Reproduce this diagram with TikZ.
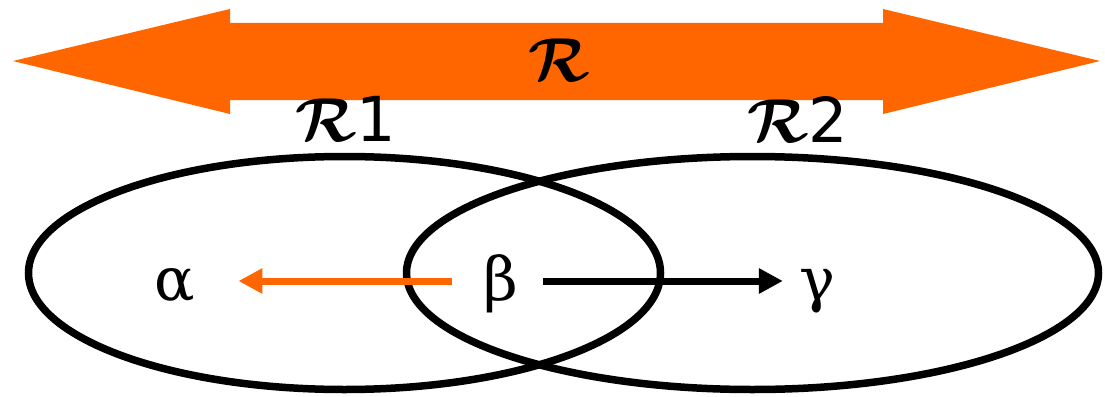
\documentclass[tikz,border=0pt]{standalone}
\usepackage{fix-cm}
\usepackage{bm}
\usepackage{fontspec}
\usepackage{tikz}
\usetikzlibrary{arrows.meta,shapes.geometric}
\newfontfamily\grk{DejaVu Serif}
\newfontfamily\dgt{DejaVu Sans}
\definecolor{cOr}{HTML}{FF6600}
\definecolor{cInk}{HTML}{000000}
\tikzset{
  >={Triangle[length=24pt,width=24pt]},
  region/.style={ellipse,draw=cInk,line width=7.5pt,inner sep=0pt,minimum height=233pt},
  gk/.style={font=\fontsize{60}{60}\grk,inner sep=0pt,text height=38pt,text depth=0pt,anchor=base},
  lbl/.style={font=\fontsize{62}{62}\selectfont,inner sep=0pt},
  ar/.style={->,line width=7pt,cInk},
}
\newcommand{\Rc}{$\bm{\mathcal{R}}$}

\begin{document}
\begin{tikzpicture}[x=1pt,y=-1pt]
\useasboundingbox (0,0) rectangle (1105,396);
% the wide arrow on top
\fill[cOr] (13,61) -- (230,9) -- (230,23) -- (883,23) -- (883,9) -- (1100,61)
  -- (883,114) -- (883,100) -- (230,100) -- (230,114) -- cycle;
\node[lbl] (r) at (559,60) {\Rc};
% the two regions
\node[region,minimum width=632pt] (rOne) at (344.5,273) {};
\node[region,minimum width=692pt] (rTwo) at (752.5,273) {};
\node[lbl] (rOneLbl) at (346,119) {\Rc{\dgt 1}};
\node[lbl] (rTwoLbl) at (798,119) {\Rc{\dgt 2}};
\node[gk] (alpha) at (175,300) {α};
\node[gk] (beta) at (501,300) {β};
\node[gk] (gamma) at (817,300) {γ};
\draw[ar,cOr,shorten <=31pt,shorten >=43pt] (beta.west) -- (alpha.east);
\draw[ar,shorten <=24pt,shorten >=16pt] (beta.east) -- (gamma.west);
\end{tikzpicture}
\end{document}
